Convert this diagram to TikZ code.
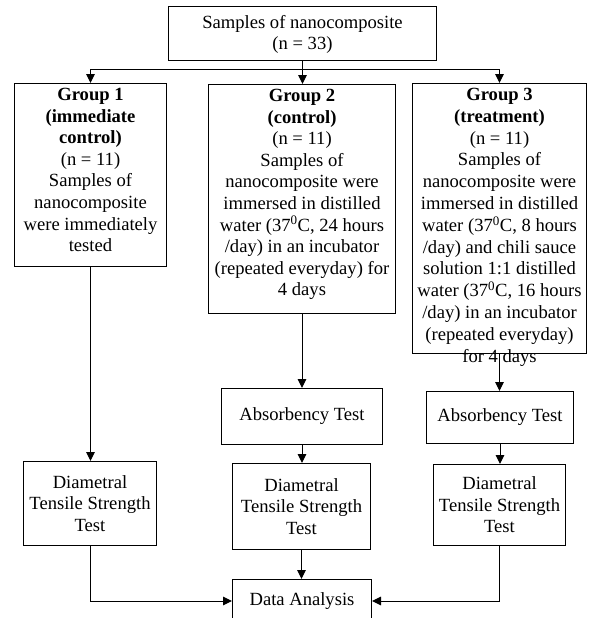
\documentclass[tikz,border=0pt]{standalone}
\usepackage{fontspec}
\setmainfont{Liberation Serif}
\usetikzlibrary{arrows.meta}
\begin{document}
\begin{tikzpicture}[x=1pt,y=-1pt,
  box/.style={draw, line width=1pt, inner sep=0pt, anchor=north west, align=center,
    font=\fontsize{18.6}{21.6}\selectfont},
  txt/.style={align=center, inner sep=0pt, anchor=north, font=\fontsize{18.6}{21.6}\selectfont},
  ln/.style={line width=1pt},
  arr/.style={line width=1pt, -{Triangle[length=9pt,width=8.5pt]}}]
\fill[white] (0,0) rectangle (589,618);
\useasboundingbox (0,0) rectangle (589,618);
% boxes
\node[box, minimum width=268pt, minimum height=54pt] (top) at (168,6) {};
\node[txt] (topt) at ([yshift=-9pt]top.north) {Samples of nanocomposite\\(n = 33)};
\node[box, minimum width=152pt, minimum height=183pt] (g1) at (14,83) {};
\node[box, minimum width=187pt, minimum height=229pt] (g2) at (208,84) {};
\node[box, minimum width=174pt, minimum height=270pt] (g3) at (412,83) {};
\node[txt] (g1t) at ([yshift=-5pt]g1.north)
  {\textbf{Group 1}\\\textbf{(immediate}\\\textbf{control)}\\(n = 11)\\Samples of\\nanocomposite\\were immediately\\tested};
\node[txt] (g2t) at ([yshift=-5pt]g2.north)
  {\textbf{Group 2}\\\textbf{(control)}\\(n = 11)\\Samples of\\nanocomposite were\\immersed in distilled\\water (37\textsuperscript{0}C, 24 hours\\/day) in an incubator\\(repeated everyday) for\\4 days};
\node[txt, font=\fontsize{18.6}{21.8}\selectfont] (g3t) at ([yshift=-5pt]g3.north)
  {\textbf{Group 3}\\\textbf{(treatment)}\\(n = 11)\\Samples of\\nanocomposite were\\immersed in distilled\\water (37\textsuperscript{0}C, 8 hours\\/day) and chili sauce\\solution 1:1 distilled\\water (37\textsuperscript{0}C, 16 hours\\/day) in an incubator\\(repeated everyday)\\for 4 days};
\node[box, minimum width=161pt, minimum height=56pt] (abs2) at (221,388) {Absorbency Test};
\node[box, minimum width=147pt, minimum height=52pt] (abs3) at (426,391) {Absorbency Test};
\node[box, minimum width=133pt, minimum height=84pt] (dts1) at (23,461) {Diametral\\Tensile Strength\\Test};
\node[box, minimum width=138pt, minimum height=86pt] (dts2) at (232,463) {Diametral\\Tensile Strength\\Test};
\node[box, minimum width=132pt, minimum height=81pt] (dts3) at (433,464) {Diametral\\Tensile Strength\\Test};
\node[box, minimum width=139pt, minimum height=43pt] (da) at (232,579) {Data Analysis};
% connectors
\draw[ln] (top.south) -- ++(0,8) coordinate (sp);
\draw[arr] (sp) -| (g1.north);
\draw[arr] (sp) -- (sp |- g2.north);
\draw[arr] (sp) -| (g3.north);
\draw[arr] (g1.south) -- (g1.south |- dts1.north);
\draw[arr] (g2.south) -- (g2.south |- abs2.north);
\draw[arr] (abs2.south) -- (abs2.south |- dts2.north);
\draw[arr] (dts2.south) -- (dts2.south |- da.north);
\draw[arr] (g3.south) -- (g3.south |- abs3.north);
\draw[arr] (abs3.south) -- (abs3.south |- dts3.north);
\draw[arr] (dts1.south) |- (da.west);
\draw[arr] (dts3.south) |- (da.east);
\end{tikzpicture}
\end{document}
